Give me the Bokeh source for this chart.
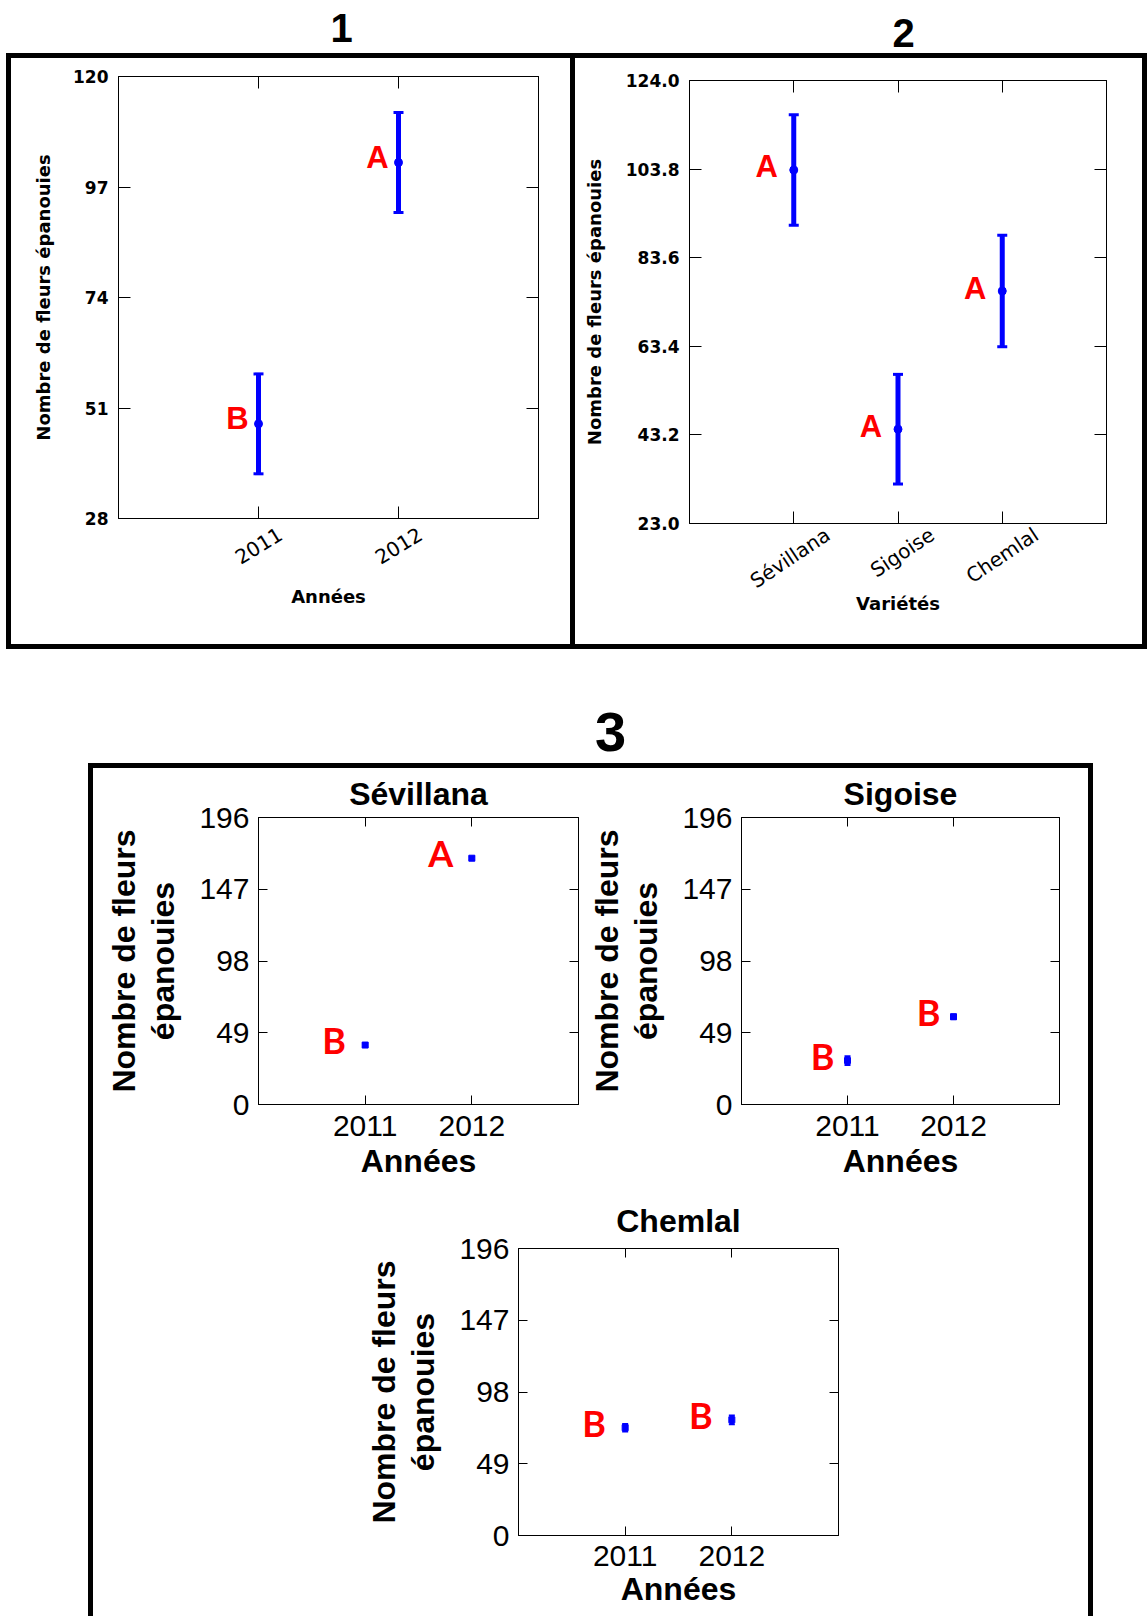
from bokeh.plotting import figure
from bokeh.layouts import row, column
from bokeh.models import (Range1d, LinearAxis, FixedTicker, Whisker, TeeHead,
                          ColumnDataSource, Spacer, Label, Title,
                          PrintfTickFormatter, CustomJSTickFormatter)
from bokeh.core.properties import value
from bokeh.embed import file_html
from bokeh.resources import INLINE

# ---------------- data ----------------
years = [2011, 2012]
year_labels = ["2011", "2012"]

p1_means = [47.7, 102.1]
p1_errs = [10.4, 10.4]
p1_letters = ["B", "A"]
p1_yticks = [28, 51, 74, 97, 120]

varieties = ["Sévillana", "Sigoise", "Chemlal"]
p2_means = [103.6, 44.5, 76.0]
p2_errs = [12.6, 12.5, 12.7]
p2_letters = ["A", "A", "A"]
p2_yticks = [23.0, 43.2, 63.4, 83.6, 103.8, 124.0]

p3_yticks = [0, 49, 98, 147, 196]
sev_means = [40.6, 168.2]
sev_errs = [1.0, 1.0]
sev_letters = ["B", "A"]
sig_means = [30.0, 59.9]
sig_errs = [3.0, 1.5]
sig_letters = ["B", "B"]
chem_means = [73.6, 79.0]
chem_errs = [2.5, 3.0]
chem_letters = ["B", "B"]

ylab = "Nombre de fleurs épanouies"
ylab3 = "Nombre de fleurs\népanouies"

BLUE = "#0000ff"
RED = "#ff0000"


def base_fig(w, h, xr, yr, borders):
    l, r, t, b = borders
    p = figure(width=w, height=h, x_range=xr, y_range=yr, toolbar_location=None,
               output_backend="svg", min_border_left=l, min_border_right=r,
               min_border_top=t, min_border_bottom=b, title_location=None)
    p.grid.visible = False
    p.outline_line_color = "black"
    p.outline_line_width = 1
    p.background_fill_color = "white"
    p.border_fill_color = "white"
    return p


def hide_labels(ax, standoff=0):
    ax.formatter = CustomJSTickFormatter(code="return ''")
    ax.major_label_text_color = None
    ax.major_label_text_font_size = "1px"
    ax.major_label_standoff = standoff


def style_axes(p, xticks, yticks, tick_len, tick_font, ytick_size, ytick_style,
               xtick_size, xtick_style, lab_font, lab_size, ystand, xstand,
               ylabstand, xlabstand, line_h=1.2):
    p.xaxis.ticker = FixedTicker(ticks=xticks)
    p.yaxis.ticker = FixedTicker(ticks=yticks)
    for ax in list(p.xaxis) + list(p.yaxis):
        ax.major_tick_in = tick_len
        ax.major_tick_out = 0
        ax.minor_tick_line_color = None
        ax.minor_tick_out = 0
        ax.axis_line_color = "black"
        ax.major_tick_line_color = "black"
        ax.major_label_text_font = tick_font
        ax.major_label_text_color = "black"
        ax.axis_label_text_font = lab_font
        ax.axis_label_text_font_style = "bold"
        ax.axis_label_text_font_size = lab_size
        ax.axis_label_text_color = "black"
        ax.axis_label_text_line_height = line_h
    for ax in p.yaxis:
        ax.major_label_text_font_size = ytick_size
        ax.major_label_text_font_style = ytick_style
        ax.major_label_standoff = ystand
        ax.axis_label_standoff = ylabstand
    for ax in p.xaxis:
        ax.major_label_text_font_size = xtick_size
        ax.major_label_text_font_style = xtick_style
        ax.major_label_standoff = xstand
        ax.axis_label_standoff = xlabstand
    for side, ticks in (("above", xticks), ("right", yticks)):
        ax = LinearAxis(ticker=FixedTicker(ticks=ticks), major_tick_in=tick_len,
                        major_tick_out=0, minor_tick_line_color=None, minor_tick_out=0,
                        axis_line_color="black", major_tick_line_color="black")
        hide_labels(ax)
        p.add_layout(ax, side)


def label_axis(p, xs, texts, angle, shift_px, frame_w, standoff, label, lab_standoff):
    """Rotated category labels centred under their ticks (own axis on a shifted range)."""
    span = p.x_range.end - p.x_range.start
    s = shift_px * span / frame_w
    p.extra_x_ranges = {"lbl": Range1d(p.x_range.start - s, p.x_range.end - s)}
    ax = LinearAxis(x_range_name="lbl", ticker=FixedTicker(ticks=xs),
                    formatter=CustomJSTickFormatter(
                        args=dict(tv=xs, names=texts),
                        code="""let b = 0;
for (let i = 0; i < tv.length; i++) {
  if (Math.abs(tv[i] - tick) < Math.abs(tv[b] - tick)) b = i;
}
return names[b];"""),
                    major_tick_in=0, major_tick_out=0, minor_tick_line_color=None,
                    minor_tick_out=0,
                    axis_line_color=None, major_label_orientation=angle,
                    major_label_standoff=standoff,
                    major_label_text_font="DejaVu Sans",
                    major_label_text_font_size="20px",
                    major_label_text_color="black",
                    axis_label=label, axis_label_standoff=lab_standoff,
                    axis_label_text_font="DejaVu Sans",
                    axis_label_text_font_style="bold",
                    axis_label_text_font_size="18px",
                    axis_label_text_color="black")
    p.add_layout(ax, "below")


def add_points(p, xs, means, errs, letters, bar_w, head_size, head_w, dot,
               marker, font, fsize, dx, dy):
    src = ColumnDataSource(dict(
        x=xs, mean=means,
        lo=[m - e for m, e in zip(means, errs)],
        hi=[m + e for m, e in zip(means, errs)],
        letter=letters))
    w = Whisker(base="x", upper="hi", lower="lo", source=src, dimension="height",
                line_color=BLUE, line_width=bar_w,
                upper_head=TeeHead(size=head_size, line_color=BLUE, line_width=head_w),
                lower_head=TeeHead(size=head_size, line_color=BLUE, line_width=head_w))
    p.add_layout(w)
    p.scatter(x="x", y="mean", source=src, marker=marker, size=dot,
              fill_color=BLUE, line_color=BLUE)
    p.text(x="x", y="mean", text="letter", source=src, text_color=RED,
           text_font=value(font), text_font_style="bold", text_font_size=fsize,
           text_align="center", text_baseline="middle", x_offset=dx, y_offset=dy)


def header(w, h, items):
    p = figure(width=w, height=h, x_range=Range1d(0, w), y_range=Range1d(h, 0),
               toolbar_location=None, output_backend="svg", min_border=0,
               x_axis_location=None, y_axis_location=None, title_location=None)
    p.grid.visible = False
    p.outline_line_color = None
    for txt, x, y, size in items:
        p.add_layout(Label(x=x, y=y, text=txt, text_font="Liberation Sans",
                           text_font_style="bold", text_font_size=size,
                           text_align="center", text_baseline="middle",
                           text_color="black"))
    return p


def bar(w, h):
    return Spacer(width=w, height=h, styles={"background-color": "black"})


# ---------------- panel 1 ----------------
p1 = base_fig(559, 586, Range1d(years[0] - 1, years[-1] + 1),
              Range1d(p1_yticks[0], p1_yticks[-1]), (107, 32, 18, 126))
p1.yaxis.axis_label = ylab
style_axes(p1, years, p1_yticks, 12, "DejaVu Sans", "17px", "bold", "20px", "normal",
           "DejaVu Sans", "18px", 10, 0, 16, 0)
hide_labels(p1.below[0])
label_axis(p1, years, year_labels, 0.55, 22, 420, 14, "Années", 12)
add_points(p1, years, p1_means, p1_errs, p1_letters, 5, 10, 3, 8, "circle",
           "Liberation Sans", "31px", -21, -5)

# ---------------- panel 2 ----------------
vx = [i + 1 for i in range(len(varieties))]
p2 = base_fig(567, 586, Range1d(0, len(varieties) + 1),
              Range1d(p2_yticks[0], p2_yticks[-1]), (114, 36, 22, 121))
p2.yaxis.axis_label = ylab
style_axes(p2, vx, p2_yticks, 12, "DejaVu Sans", "17px", "bold", "20px", "normal",
           "DejaVu Sans", "18px", 10, 0, 18, 0)
hide_labels(p2.below[0])
p2.left[0].formatter = PrintfTickFormatter(format="%.1f")
label_axis(p2, vx, varieties, 0.59, 34, 417, 9, "Variétés", -13)
add_points(p2, vx, p2_means, p2_errs, p2_letters, 5, 10, 3, 8, "circle",
           "Liberation Sans", "31px", -27, -3)


# ---------------- panel 3 ----------------
def sub(title, w, h, borders, means, errs, letters, dx, xstand, xlabstand, tstand):
    p = base_fig(w, h, Range1d(years[0] - 1, years[-1] + 1),
                 Range1d(p3_yticks[0], p3_yticks[-1]), borders)
    p.xaxis.axis_label = "Années"
    p.yaxis.axis_label = ylab3
    style_axes(p, years, p3_yticks, 9, "Liberation Sans", "30px", "normal", "30px",
               "normal", "Liberation Sans", "32px", 9, xstand, 15, xlabstand,
               line_h=1.1)
    p.add_layout(Title(text=title, align="center", text_font="Liberation Sans",
                       text_font_style="bold", text_font_size="32px",
                       text_color="black", standoff=tstand), "above")
    add_points(p, years, means, errs, letters, 4, 6, 2, 6, "square",
               "Lato", "36px", dx, -5)
    return p


sev = sub("Sévillana", 492, 420, (165, 7, 49, 84), sev_means, sev_errs, sev_letters,
          -31, 11, 4, 11)
sig = sub("Sigoise", 503, 420, (155, 29, 49, 84), sig_means, sig_errs, sig_letters,
          -25, 11, 4, 11)
chem = sub("Chemlal", 500, 428, (160, 20, 60, 81), chem_means, chem_errs, chem_letters,
           -31, 10, 2, 20)

# ---------------- layout ----------------
hdr12 = header(1148, 53, [("1", 341, 27, "40px"), ("2", 903, 32, "40px")])
boxA = column(bar(1141, 5),
              row(bar(5, 586), column(p1), bar(5, 586), column(p2), bar(5, 586)),
              bar(1141, 5))
rowA = row(Spacer(width=6, height=596), boxA)

hdr3 = header(1148, 114, [("3", 610, 82, "56px")])
content = column(row(column(sev), column(sig)),
                 row(Spacer(width=265, height=428), chem))
boxC = column(bar(1005, 5), row(bar(5, 848), content, bar(5, 848)))
rowC = row(Spacer(width=88, height=853), boxC)

page = column(hdr12, rowA, hdr3, rowC)

open("out.html", "w").write(file_html(page, INLINE))
